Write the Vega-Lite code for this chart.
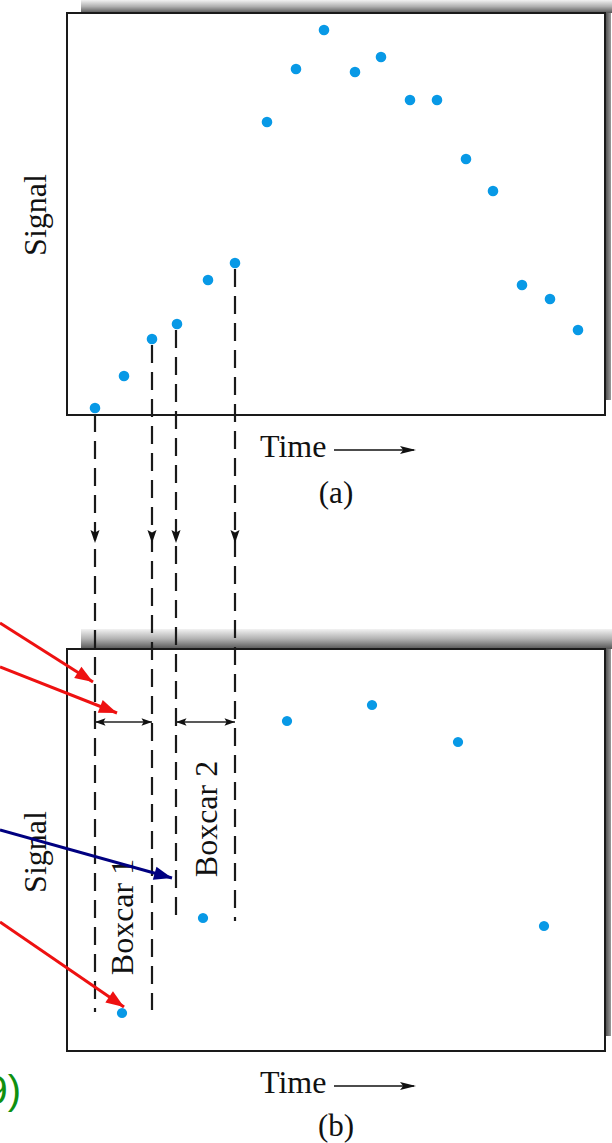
{
  "$schema": "https://vega.github.io/schema/vega-lite/v6.json",
  "width": 612,
  "height": 1143,
  "padding": 0,
  "autosize": {"type": "none"},
  "background": "white",
  "config": {"view": {"stroke": null}},
  "datasets": {
    "shadowTop": [
      {"x": 81, "x2": 612, "y": 0, "y2": 13},
      {"x": 81, "x2": 612, "y": 629, "y2": 649}
    ],
    "shadowRight": [
      {"x": 605, "x2": 611, "y": 13, "y2": 400},
      {"x": 605, "x2": 611, "y": 649, "y2": 1036}
    ],
    "frames": [
      {"panel": "a", "x": 67, "x2": 605, "y": 13, "y2": 415},
      {"panel": "b", "x": 67, "x2": 605, "y": 649, "y2": 1051}
    ],
    "pointsA": [
      {"x": 95, "y": 408}, {"x": 124, "y": 376}, {"x": 152, "y": 339},
      {"x": 177, "y": 324}, {"x": 208, "y": 280}, {"x": 235, "y": 263},
      {"x": 267, "y": 122}, {"x": 296, "y": 69}, {"x": 324, "y": 30},
      {"x": 355, "y": 72}, {"x": 381, "y": 57}, {"x": 410, "y": 100},
      {"x": 437, "y": 100}, {"x": 466, "y": 159}, {"x": 493, "y": 191},
      {"x": 522, "y": 285}, {"x": 550, "y": 299}, {"x": 578, "y": 330}
    ],
    "pointsB": [
      {"x": 122, "y": 1013}, {"x": 203, "y": 918}, {"x": 287, "y": 721},
      {"x": 372, "y": 705}, {"x": 458, "y": 742}, {"x": 544, "y": 926}
    ],
    "dashes": [
      {"x": 95, "y": 414, "y2": 1012},
      {"x": 152, "y": 345, "y2": 1010},
      {"x": 176, "y": 330, "y2": 921},
      {"x": 235, "y": 269, "y2": 921}
    ],
    "downHeads": [
      {"x": 95, "y": 543}, {"x": 152, "y": 543}, {"x": 176, "y": 543}, {"x": 235, "y": 543}
    ],
    "spans": [
      {"x": 95, "x2": 152, "y": 722},
      {"x": 176, "x2": 235, "y": 722}
    ],
    "leftHeads": [{"x": 95, "y": 722}, {"x": 176, "y": 722}],
    "rightHeads": [{"x": 152, "y": 722}, {"x": 235, "y": 722}],
    "timeArrows": [
      {"x": 334, "x2": 414, "y": 450},
      {"x": 334, "x2": 414, "y": 1086}
    ],
    "timeHeads": [{"x": 416, "y": 450}, {"x": 416, "y": 1086}],
    "vtext": [
      {"label": "Signal", "x": 36, "y": 215},
      {"label": "Signal", "x": 36, "y": 852},
      {"label": "Boxcar 1", "x": 123, "y": 917},
      {"label": "Boxcar 2", "x": 207, "y": 819}
    ],
    "timeText": [
      {"label": "Time", "x": 260, "y": 457},
      {"label": "Time", "x": 260, "y": 1093}
    ],
    "captions": [
      {"label": "(a)", "x": 336, "y": 503},
      {"label": "(b)", "x": 336, "y": 1136}
    ],
    "redLines": [
      {"x": 0, "y": 623, "x2": 93, "y2": 682},
      {"x": 0, "y": 667, "x2": 117, "y2": 713},
      {"x": 0, "y": 922, "x2": 124, "y2": 1007}
    ],
    "blueLines": [
      {"x": 0, "y": 830, "x2": 172, "y2": 878}
    ]
  },
  "encoding": {
    "x": {"field": "x", "type": "quantitative", "scale": {"domain": [0, 612], "nice": false, "zero": false}, "axis": null},
    "y": {"field": "y", "type": "quantitative", "scale": {"domain": [0, 1143], "nice": false, "zero": false, "reverse": true}, "axis": null}
  },
  "layer": [
    {
      "data": {"name": "shadowTop"},
      "mark": {"type": "rect", "fill": {"gradient": "linear", "x1": 0, "y1": 0, "x2": 0, "y2": 1, "stops": [{"offset": 0, "color": "#f2f2f2"}, {"offset": 0.5, "color": "#b0b0b0"}, {"offset": 1, "color": "#555555"}]}},
      "encoding": {"x2": {"field": "x2"}, "y2": {"field": "y2"}}
    },
    {
      "data": {"name": "shadowRight"},
      "mark": {"type": "rect", "fill": {"gradient": "linear", "x1": 0, "y1": 0, "x2": 1, "y2": 0, "stops": [{"offset": 0, "color": "#444444"}, {"offset": 1, "color": "#9a9a9a"}]}},
      "encoding": {"x2": {"field": "x2"}, "y2": {"field": "y2"}}
    },
    {
      "data": {"name": "frames"},
      "mark": {"type": "rect", "fill": "transparent", "stroke": "#1a1a1a", "strokeWidth": 2},
      "encoding": {"x2": {"field": "x2"}, "y2": {"field": "y2"}}
    },
    {
      "data": {"name": "dashes"},
      "mark": {"type": "rule", "color": "#1a1a1a", "strokeWidth": 2.2, "strokeDash": [18, 9]},
      "encoding": {"y2": {"field": "y2"}}
    },
    {
      "data": {"name": "downHeads"},
      "mark": {"type": "point", "filled": true, "color": "#111111", "opacity": 1, "shape": "M0,0L-2,-0.7L-1.6,0L-2,0.7Z", "size": 169, "angle": 90}
    },
    {
      "data": {"name": "spans"},
      "mark": {"type": "rule", "color": "#222222", "strokeWidth": 1.5},
      "encoding": {"x2": {"field": "x2"}}
    },
    {
      "data": {"name": "leftHeads"},
      "mark": {"type": "point", "filled": true, "color": "#111111", "opacity": 1, "shape": "M0,0L-2,-0.7L-1.6,0L-2,0.7Z", "size": 110, "angle": 180}
    },
    {
      "data": {"name": "rightHeads"},
      "mark": {"type": "point", "filled": true, "color": "#111111", "opacity": 1, "shape": "M0,0L-2,-0.7L-1.6,0L-2,0.7Z", "size": 110, "angle": 0}
    },
    {
      "data": {"name": "timeArrows"},
      "mark": {"type": "rule", "color": "#111111", "strokeWidth": 1.5},
      "encoding": {"x2": {"field": "x2"}}
    },
    {
      "data": {"name": "timeHeads"},
      "mark": {"type": "point", "filled": true, "color": "#111111", "opacity": 1, "shape": "M0,0L-2,-0.5L-1.6,0L-2,0.5Z", "size": 256, "angle": 0}
    },
    {
      "data": {"name": "vtext"},
      "mark": {"type": "text", "font": "Liberation Serif", "fontSize": 32, "color": "#111111", "angle": 270, "align": "center", "baseline": "middle"},
      "encoding": {"text": {"field": "label"}}
    },
    {
      "data": {"name": "timeText"},
      "mark": {"type": "text", "font": "Liberation Serif", "fontSize": 32, "color": "#111111", "align": "left", "baseline": "alphabetic"},
      "encoding": {"text": {"field": "label"}}
    },
    {
      "data": {"name": "captions"},
      "mark": {"type": "text", "font": "Liberation Serif", "fontSize": 31, "color": "#111111", "align": "center", "baseline": "alphabetic"},
      "encoding": {"text": {"field": "label"}}
    },
    {
      "data": {"values": [{"label": "9)", "x": 21, "y": 1104}]},
      "mark": {"type": "text", "font": "Liberation Sans", "fontSize": 40, "color": "#109010", "align": "right", "baseline": "alphabetic"},
      "encoding": {"text": {"field": "label"}}
    },
    {
      "data": {"name": "pointsA"},
      "mark": {"type": "point", "filled": true, "color": "#0899E6", "opacity": 1, "shape": "circle", "size": 112}
    },
    {
      "data": {"name": "pointsB"},
      "mark": {"type": "point", "filled": true, "color": "#0899E6", "opacity": 1, "shape": "circle", "size": 105}
    },
    {
      "data": {"name": "redLines"},
      "mark": {"type": "rule", "color": "#EE1111", "strokeWidth": 3},
      "encoding": {"x2": {"field": "x2"}, "y2": {"field": "y2"}}
    },
    {
      "data": {"name": "blueLines"},
      "mark": {"type": "rule", "color": "#000080", "strokeWidth": 3},
      "encoding": {"x2": {"field": "x2"}, "y2": {"field": "y2"}}
    },
    {
      "data": {"values": [{"x": 93, "y": 682}]},
      "mark": {"type": "point", "filled": true, "color": "#EE1111", "opacity": 1, "shape": "M0,0L-2,-0.75L-2,0.75Z", "size": 324, "angle": 32.4}
    },
    {
      "data": {"values": [{"x": 117, "y": 713}]},
      "mark": {"type": "point", "filled": true, "color": "#EE1111", "opacity": 1, "shape": "M0,0L-2,-0.75L-2,0.75Z", "size": 324, "angle": 21.5}
    },
    {
      "data": {"values": [{"x": 124, "y": 1007}]},
      "mark": {"type": "point", "filled": true, "color": "#EE1111", "opacity": 1, "shape": "M0,0L-2,-0.75L-2,0.75Z", "size": 324, "angle": 34.4}
    },
    {
      "data": {"values": [{"x": 172, "y": 878}]},
      "mark": {"type": "point", "filled": true, "color": "#000080", "opacity": 1, "shape": "M0,0L-2,-0.75L-2,0.75Z", "size": 324, "angle": 15.6}
    }
  ]
}
